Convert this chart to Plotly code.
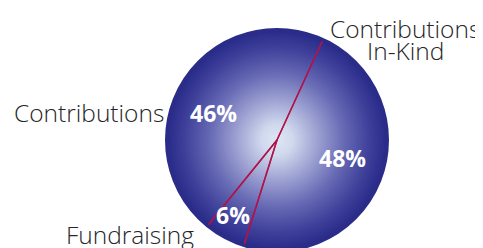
import plotly.graph_objects as go

categories = ["Contributions In-Kind", "Fundraising", "Contributions"]
values = [48, 6, 46]
label_lines = [["Contributions", "In-Kind"], ["Fundraising"], ["Contributions"]]

W, H = 483, 248
OFF = 8  # page body margin offset
R = 110
cx_px, cy_px = 277 - OFF, 140 - OFF

# radial gradient stops (fraction of radius, rgb)
stops = [(0.0, (222, 230, 245)), (0.15, (208, 216, 238)), (0.38, (156, 160, 209)),
         (0.62, (102, 105, 180)), (0.85, (62, 64, 154)), (1.0, (42, 44, 138))]

def col(t):
    for (a, ca), (b, cb) in zip(stops[:-1], stops[1:]):
        if a <= t <= b:
            f = (t - a) / (b - a)
            c = [round(ca[i] + (cb[i] - ca[i]) * f) for i in range(3)]
            return "rgb(%d,%d,%d)" % tuple(c)
    return "rgb(%d,%d,%d)" % stops[-1][1]

dom_x = [(cx_px - R) / W, (cx_px + R) / W]
dom_y = [1 - (cy_px + R) / H, 1 - (cy_px - R) / H]
pcx = cx_px / W
pcy = 1 - cy_px / H

shapes = []
N = 90
for k in range(N, 0, -1):
    r = R * k / N
    shapes.append(dict(type="circle", xref="paper", yref="paper", xsizemode="pixel", ysizemode="pixel",
                       xanchor=pcx, yanchor=pcy, x0=-r, x1=r, y0=-r, y1=r,
                       fillcolor=col(k / N), line=dict(width=0), layer="below"))
shapes.append(dict(type="circle", xref="paper", yref="paper", xsizemode="pixel", ysizemode="pixel",
                   xanchor=pcx, yanchor=pcy, x0=-R - 0.5, x1=R + 0.5, y0=-R - 0.5, y1=R + 0.5,
                   fillcolor="rgba(0,0,0,0)", line=dict(width=3, color=col(1.0)), layer="above"))

fig = go.Figure(go.Pie(
    labels=categories, values=values, sort=False, direction="clockwise", rotation=24.6,
    marker=dict(colors=["rgba(0,0,0,0)"] * 3, line=dict(color="#b01448", width=1.4)),
    textinfo="none",
    domain=dict(x=dom_x, y=dom_y), hoverinfo="skip", showlegend=False,
))

def px(x, y):
    return (x - OFF) / W, 1 - (y - OFF) / H

ann_font = dict(family="Open Sans", size=24.5, color="#262626", weight=300)
pct_font = dict(family="Open Sans", size=23, color="white", weight="bold")
label_pos = [(405, 28), (130, 234), (89, 113)]
line_gap = 23
pct_pos = [(342, 158), (233, 215), (213, 113)]
annotations = []
for lines, (x, y) in zip(label_lines, label_pos):
    for i, t in enumerate(lines):
        ax, ay = px(x, y + i * line_gap)
        annotations.append(dict(text=t, x=ax, y=ay, xref="paper", yref="paper", showarrow=False,
                                font=ann_font, align="center", xanchor="center", yanchor="middle"))
for v, (x, y) in zip(values, pct_pos):
    ax, ay = px(x, y)
    annotations.append(dict(text=f"{v}%", x=ax, y=ay, xref="paper", yref="paper", showarrow=False,
                            font=pct_font, xanchor="center", yanchor="middle"))

fig.update_layout(width=W, height=H, margin=dict(l=0, r=0, t=0, b=0),
                  paper_bgcolor="white", plot_bgcolor="white",
                  shapes=shapes, annotations=annotations)
fig.write_html("out.html")
